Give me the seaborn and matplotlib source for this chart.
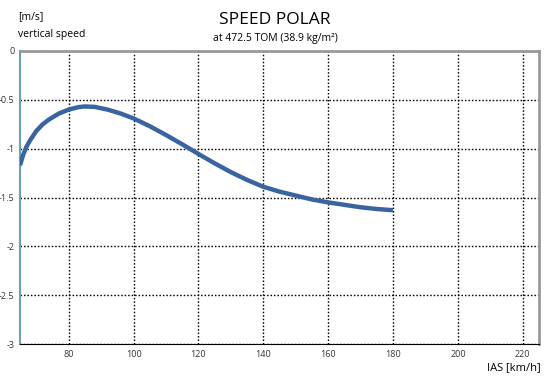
import matplotlib
matplotlib.use("Agg")
import matplotlib.pyplot as plt
import seaborn as sns
import pandas as pd

ias = [65, 66, 67, 68, 70, 72, 74, 77, 80, 83, 85, 88, 92, 96, 100, 105, 110, 115, 120,
       125, 130, 135, 140, 145, 150, 155, 160, 165, 170, 175, 180]
vs = [-1.17, -1.06, -0.98, -0.92, -0.82, -0.75, -0.70, -0.64, -0.60, -0.575, -0.568, -0.572,
      -0.60, -0.64, -0.69, -0.77, -0.86, -0.955, -1.054, -1.15, -1.24, -1.32, -1.39,
      -1.44, -1.48, -1.52, -1.55, -1.575, -1.60, -1.618, -1.63]
xticks = [80, 100, 120, 140, 160, 180, 200, 220]
yticks = [0, -0.5, -1, -1.5, -2, -2.5, -3]
ylabels = ["0", "-0.5", "-1", "-1.5", "-2", "-2.5", "-3"]

df = pd.DataFrame({"ias": ias, "vs": vs})

sns.set_theme(style="white")
plt.rcParams['font.family'] = ['Open Sans', 'DejaVu Sans']

fig = plt.figure(figsize=(5.5, 3.76), dpi=100)
ax = fig.add_axes([20/550, 1-344/376, (539-20)/550, (344-51)/376])

sns.lineplot(data=df, x="ias", y="vs", ax=ax, color="#3a64a0", linewidth=3.2,
             solid_capstyle="butt", zorder=3)

ax.set_xlim(65, 225)
ax.set_ylim(-3, 0)
ax.set_xticks(xticks)
ax.set_yticks(yticks)
ax.set_yticklabels(ylabels)
ax.tick_params(axis="both", length=0, labelsize=6.5, colors="#333333", pad=4)
ax.set_xlabel("")
ax.set_ylabel("")
ax.grid(True, color="black", linestyle=(0, (1.1, 1.4)), linewidth=1.0)
ax.set_axisbelow(True)

for s in ["top", "right"]:
    ax.spines[s].set_color("#999999")
    ax.spines[s].set_linewidth(2)
ax.spines["left"].set_color("#6aa3a8")
ax.spines["left"].set_linewidth(1.5)
ax.spines["bottom"].set_color("black")
ax.spines["bottom"].set_linewidth(0.8)

fig.text(275/550, 1-20/376, "SPEED POLAR", ha="center", va="center", fontsize=12.5, color="black")
fig.text(275/550, 1-38/376, "at 472.5 TOM (38.9 kg/m²)", ha="center", va="center", fontsize=7.5, color="black")
fig.text(18/550, 1-17/376, "[m/s]", ha="left", va="center", fontsize=7.5, color="black")
fig.text(18/550, 1-35/376, "vertical speed", ha="left", va="center", fontsize=7.5, color="black")
fig.text(541/550, 1-368/376, "IAS [km/h]", ha="right", va="center", fontsize=8, color="black")

fig.savefig("out.png", dpi=100)
